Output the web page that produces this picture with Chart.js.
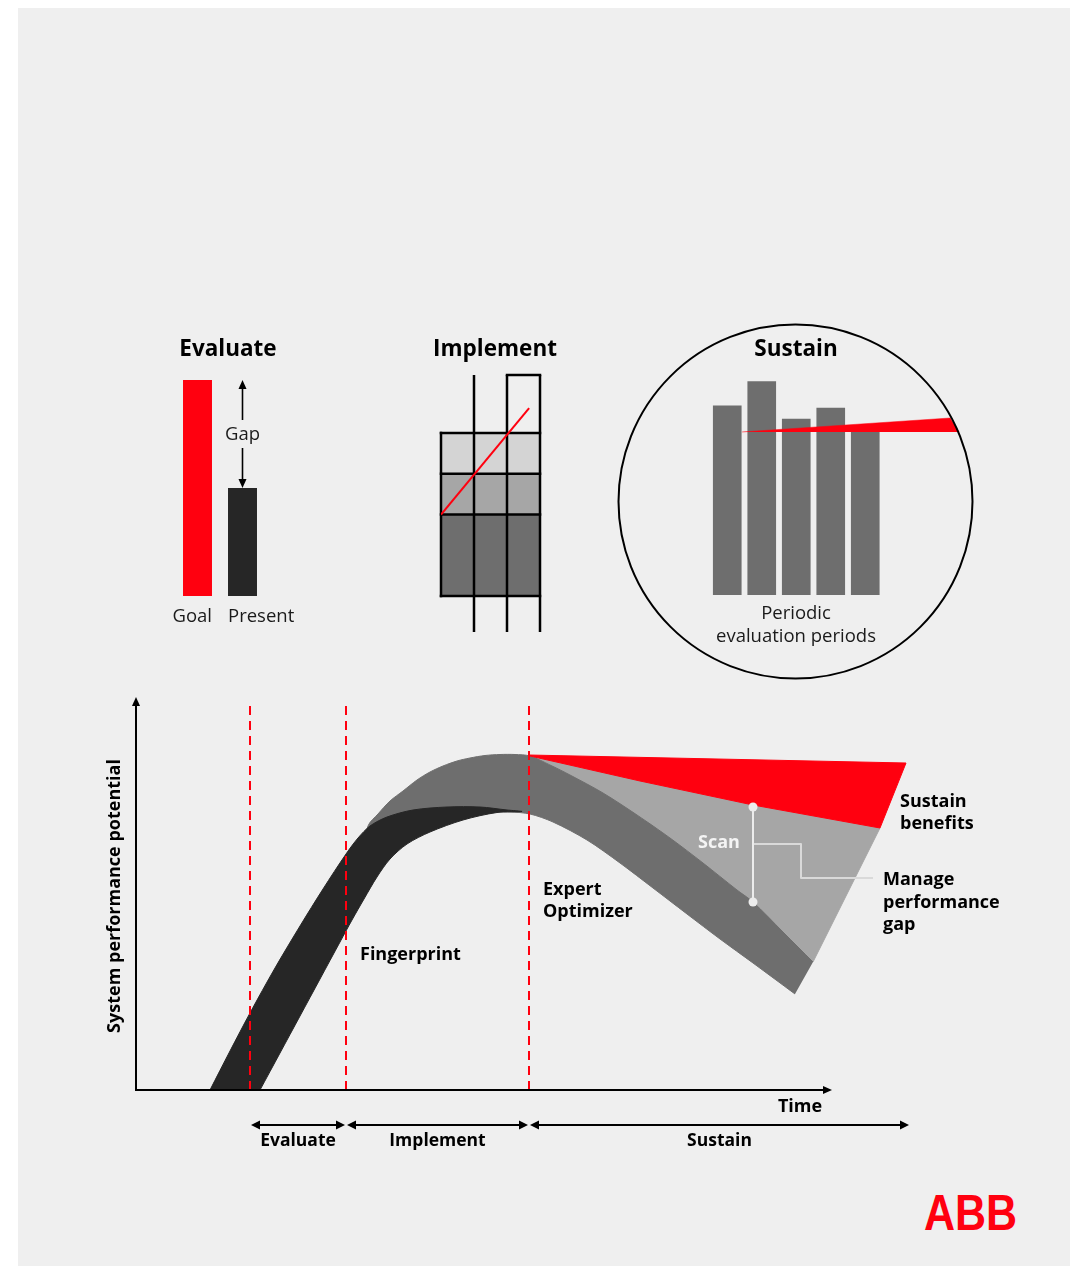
<!DOCTYPE html>
<html>
<head>
<meta charset="utf-8">
<title>System performance potential – Evaluate, Implement, Sustain</title>
<script src="https://cdn.jsdelivr.net/npm/chart.js@4.4.1/dist/chart.umd.min.js"></script>
<style>
  html, body { margin:0; padding:0; background:#ffffff; }
  body { width:1070px; height:1266px; position:relative; overflow:hidden; }
  #panel { position:absolute; left:18px; top:8px; width:1052px; height:1258px; background:#efefef; }
  canvas { position:absolute; }
  #logo { position:absolute; left:924px; top:1188px; font:bold 50px "Liberation Sans", Arial, sans-serif; color:#ff000f; line-height:50px; transform:scaleX(0.86); transform-origin:0 0; }
</style>
</head>
<body>
<div id="panel"></div>
<canvas id="evalChart" width="150" height="300" style="left:160px;top:330px"></canvas>
<canvas id="implChart" width="160" height="310" style="left:420px;top:330px"></canvas>
<canvas id="sustChart" width="372" height="372" style="left:610px;top:316px"></canvas>
<canvas id="mainChart" width="1010" height="490" style="left:60px;top:680px"></canvas>
<div id="logo">ABB</div>
<script>
// ---------------- data ----------------
// Evaluate icon
const evalTitle = 'Evaluate';
const evalCategories = ['Goal', 'Present'];
const evalValues = [100, 50];
const evalGapLabel = 'Gap';

// Implement icon (three columns, three stacked layers, red trend)
const implTitle = 'Implement';
const implColumns = [0, 1, 2];
const implBaseLayer = [2, 2, 2];
const implMidLayer = [1, 1, 1];
const implTopLayer = [1, 1, 1];
const implTrend = [[-0.5, 2], [2.17, 4.61]];

// Sustain icon
const sustTitle = 'Sustain';
const sustPeriods = [0, 1, 2, 3, 4];
const sustValues = [86, 97, 80, 85, 74];
const sustWedge = [[0.43, 74.1], [6.46, 80.45], [6.72, 74.1]];
const sustCaption = ['Periodic', 'evaluation periods'];

// Main chart (time 0..100, performance 0..100)
const yAxisTitle = 'System performance potential';
const xAxisTitle = 'Time';
const phaseNames = ['Evaluate', 'Implement', 'Sustain'];
const phaseEdges = [14.25, 26.25, 49.125, 96.75];
const darkBand = [[9.25,0],[11.75,9.75],[14.25,19.25],[17.375,30.5],[20.5,41],[23.375,50.25],[26.25,59],[27.75,63],[29.25,66],[31.375,68.25],[34.625,70],[38.875,70.75],[43,70.75],[46.375,70],[48.25,69.625],[45.125,69.375],[40.875,67.5],[36.75,64.5],[33.875,61.5],[31.75,57.75],[30.125,53.25],[28.5,47.75],[27,42.5],[25.5,37],[23,27.75],[20.5,18.5],[18,9.25],[15.5,0]];
const potentialBand = [[82.375,24],[77.125,31.75],[73,37.75],[68.875,44],[64.625,50.5],[60.5,56.75],[56.375,62.5],[52.125,67],[49.25,69],[46.75,69.5],[42.625,69.5],[38.375,69],[34.25,67.25],[31.125,64],[28.75,60],[29,66],[30.25,69],[31.75,72.25],[33.375,74.75],[35.125,77.5],[36.75,79.5],[38.375,81],[40.125,82.25],[41.75,83],[43.625,83.625],[45.5,83.875],[47.375,83.875],[49.25,83.5],[51.75,81.25],[54.25,78.75],[58.375,74.25],[62.625,68.75],[66.75,63],[70.875,56.75],[75.125,50],[77.125,47],[80.875,39.5],[84.625,32]];
const gapArea = [[49.25,83.5],[63,77.25],[77.125,71.25],[93,65.5],[84.625,32],[80.875,39.5],[77.125,47],[75.125,50],[70.875,56.75],[66.75,63],[62.625,68.75],[58.375,74.25],[54.25,78.75],[51.75,81.25]];
const benefitArea = [[49.125,83.75],[96.25,81.75],[93,65.5],[77.125,71.25],[63,77.25],[49.25,83.5]];
const scanRange = [[77.125,70.75],[77.125,47]];
const scanLeader = [[77.125,61.5],[83.125,61.5],[83.125,53],[92.125,53]];
const scanLabel = 'Scan';
const fingerprintLabel = ['Fingerprint'];
const optimizerLabel = ['Expert', 'Optimizer'];
const benefitLabel = ['Sustain', 'benefits'];
const gapLabel = ['Manage', 'performance', 'gap'];

// ---------------- helpers ----------------
const FONT = '"Open Sans", "Noto Sans", sans-serif';
const RED = '#ff000f';
const pts = a => a.map(([x, y]) => ({x, y}));
const baseOpts = { responsive:false, animation:false, devicePixelRatio:1,
  plugins:{ legend:{display:false}, tooltip:{enabled:false} } };

function arrowHead(ctx, x, y, dir, len, half) {
  ctx.beginPath();
  if (dir === 'up') { ctx.moveTo(x, y); ctx.lineTo(x - half, y + len); ctx.lineTo(x + half, y + len); }
  if (dir === 'down') { ctx.moveTo(x, y); ctx.lineTo(x - half, y - len); ctx.lineTo(x + half, y - len); }
  if (dir === 'left') { ctx.moveTo(x, y); ctx.lineTo(x + len, y - half); ctx.lineTo(x + len, y + half); }
  if (dir === 'right') { ctx.moveTo(x, y); ctx.lineTo(x - len, y - half); ctx.lineTo(x - len, y + half); }
  ctx.closePath(); ctx.fill();
}
function seg(ctx, x1, y1, x2, y2) { ctx.beginPath(); ctx.moveTo(x1, y1); ctx.lineTo(x2, y2); ctx.stroke(); }

// ---------------- Evaluate ----------------
const evalDecor = {
  id: 'evalDecor',
  afterDatasetsDraw(chart) {
    const {ctx} = chart; const sy = chart.scales.y;
    const meta = chart.getDatasetMeta(0);
    const goal = meta.data[0], pres = meta.data[1];
    ctx.save();
    ctx.fillStyle = '#000'; ctx.strokeStyle = '#000';
    ctx.font = 'bold 22.5px ' + FONT; ctx.textAlign = 'center'; ctx.textBaseline = 'middle';
    ctx.fillText(evalTitle, 68, 20);
    ctx.font = '18.5px ' + FONT; ctx.fillStyle = '#1a1a1a';
    const ly = sy.getPixelForValue(0) + 21;
    ctx.textAlign = 'right'; ctx.fillText(evalCategories[0], goal.x + goal.width / 2, ly);
    ctx.textAlign = 'left'; ctx.fillText(evalCategories[1], pres.x - pres.width / 2, ly);
    // gap arrow
    const yt = sy.getPixelForValue(evalValues[0]), yb = sy.getPixelForValue(evalValues[1]);
    const ym = (yt + yb) / 2, x = pres.x;
    ctx.lineWidth = 1.6; ctx.fillStyle = '#000';
    seg(ctx, x, yt + 6, x, ym - 14);
    arrowHead(ctx, x, yt, 'up', 9, 4);
    seg(ctx, x, ym + 14, x, yb - 6);
    arrowHead(ctx, x, yb, 'down', 9, 4);
    ctx.font = '18.5px ' + FONT; ctx.textAlign = 'center'; ctx.fillStyle = '#1a1a1a';
    ctx.fillText(evalGapLabel, x, ym + 1);
    ctx.restore();
  }
};
new Chart(document.getElementById('evalChart'), {
  type: 'bar',
  data: { labels: evalCategories, datasets: [{ data: evalValues, backgroundColor: [RED, '#262626'], barPercentage: 0.644, categoryPercentage: 1 }] },
  options: Object.assign({}, baseOpts, {
    layout: { padding: { left: 15, right: 45, top: 50, bottom: 34 } },
    scales: { x: { display: false }, y: { display: false, min: 0, max: 100 } }
  }),
  plugins: [evalDecor]
});

// ---------------- Implement ----------------
const implDecor = {
  id: 'implDecor',
  beforeDatasetDraw(chart, args) {
    if (args.index !== 3) return;
    const {ctx, chartArea} = chart; const sx = chart.scales.x, sy = chart.scales.y;
    const levels = [0, implBaseLayer[0], implBaseLayer[0] + implMidLayer[0], implBaseLayer[0] + implMidLayer[0] + implTopLayer[0]];
    const xs = [-0.5, 0.5, 1.5, 2.5].map(v => sx.getPixelForValue(v));
    ctx.save();
    ctx.strokeStyle = '#000'; ctx.lineWidth = 2.5; ctx.lineCap = 'square';
    levels.forEach(l => seg(ctx, xs[0], sy.getPixelForValue(l), xs[3], sy.getPixelForValue(l)));
    seg(ctx, xs[0], sy.getPixelForValue(0), xs[0], sy.getPixelForValue(levels[3]));
    ctx.lineCap = 'butt';
    for (let i = 1; i < 4; i++) seg(ctx, xs[i], chartArea.top, xs[i], sy.getPixelForValue(0) + 36);
    ctx.lineCap = 'square';
    seg(ctx, xs[2], chartArea.top, xs[3], chartArea.top);
    ctx.restore();
  },
  afterDatasetsDraw(chart) {
    const {ctx} = chart;
    ctx.save();
    ctx.fillStyle = '#000'; ctx.font = 'bold 22.5px ' + FONT; ctx.textAlign = 'center'; ctx.textBaseline = 'middle';
    ctx.fillText(implTitle, 75, 20);
    ctx.restore();
  }
};
const implLayer = (vals, color) => ({ data: implColumns.map((c, i) => ({x: c, y: vals[i]})), backgroundColor: color, barThickness: 33, order: 1 });
new Chart(document.getElementById('implChart'), {
  type: 'bar',
  data: { datasets: [
    implLayer(implBaseLayer, '#6e6e6e'),
    implLayer(implMidLayer, '#a6a6a6'),
    implLayer(implTopLayer, '#d4d4d4'),
    { type: 'line', data: pts(implTrend), borderColor: RED, borderWidth: 2, pointRadius: 0, fill: false, order: 0 }
  ] },
  options: Object.assign({}, baseOpts, {
    layout: { padding: { left: 21, right: 40, top: 45, bottom: 44 } },
    scales: {
      x: { type: 'linear', display: false, offset: false, stacked: true, min: -0.5, max: 2.5 },
      y: { display: false, stacked: true, min: 0, max: 5.423 }
    }
  }),
  plugins: [implDecor]
});

// ---------------- Sustain ----------------
const sustDecor = {
  id: 'sustDecor',
  afterDatasetsDraw(chart) {
    const {ctx} = chart;
    ctx.save();
    ctx.strokeStyle = '#000'; ctx.lineWidth = 2;
    ctx.beginPath(); ctx.arc(185.5, 185.5, 177, 0, Math.PI * 2); ctx.stroke();
    ctx.fillStyle = '#000'; ctx.font = 'bold 22.5px ' + FONT; ctx.textAlign = 'center'; ctx.textBaseline = 'middle';
    ctx.fillText(sustTitle, 186, 34);
    ctx.font = '18.5px ' + FONT; ctx.fillStyle = '#1a1a1a';
    ctx.fillText(sustCaption[0], 186, 298);
    ctx.fillText(sustCaption[1], 186, 321);
    ctx.restore();
  }
};
new Chart(document.getElementById('sustChart'), {
  type: 'bar',
  data: { datasets: [
    { type: 'line', data: pts(sustWedge), backgroundColor: RED, borderColor: RED, borderWidth: 0.5, fill: 'shape', pointRadius: 0, order: 0 },
    { type: 'bar', data: sustPeriods.map((p, i) => ({x: p, y: sustValues[i]})), backgroundColor: '#6e6e6e', barThickness: 28, order: 1 }
  ] },
  options: Object.assign({}, baseOpts, {
    layout: { padding: { left: 100, right: 2, top: 59, bottom: 93 } },
    scales: { x: { type: 'linear', display: false, offset: false, min: -0.5, max: 7.326 }, y: { display: false, min: 0, max: 100 } }
  }),
  plugins: [sustDecor]
});

// ---------------- Main chart ----------------
const mainDecor = {
  id: 'mainDecor',
  afterDatasetsDraw(chart) {
    const {ctx} = chart; const sx = chart.scales.x, sy = chart.scales.y;
    const X = v => sx.getPixelForValue(v), Y = v => sy.getPixelForValue(v);
    ctx.save();
    ctx.strokeStyle = '#000'; ctx.fillStyle = '#000'; ctx.lineWidth = 2;
    const x0 = X(0), y0 = Y(0);
    seg(ctx, x0, y0 + 1, x0, Y(98.25) + 6);
    arrowHead(ctx, x0, Y(98.25), 'up', 9, 4);
    seg(ctx, x0 - 1, y0, X(87) - 6, y0);
    arrowHead(ctx, X(87), y0, 'right', 9, 4);
    // phases
    const ya = Y(-8.75);
    ctx.font = 'bold 17.5px ' + FONT; ctx.textAlign = 'center'; ctx.textBaseline = 'middle';
    for (let i = 0; i < phaseNames.length; i++) {
      const a = X(phaseEdges[i]), b = X(phaseEdges[i + 1]);
      seg(ctx, a + 5, ya, b - 5, ya);
      arrowHead(ctx, a + 1, ya, 'left', 9, 4.5);
      arrowHead(ctx, b - 1, ya, 'right', 9, 4.5);
      ctx.fillText(phaseNames[i], (a + b) / 2, Y(-12.75));
    }
    ctx.font = 'bold 18px ' + FONT;
    ctx.fillText(xAxisTitle, X(83), Y(-4.25));
    // y title
    ctx.save();
    ctx.translate(X(-2.625), Y(48.5)); ctx.rotate(-Math.PI / 2);
    ctx.fillText(yAxisTitle, 0, 0);
    ctx.restore();
    // labels
    ctx.font = 'bold 18px ' + FONT; ctx.textAlign = 'left'; ctx.fillStyle = '#000';
    ctx.fillText(fingerprintLabel[0], X(28), Y(33.75));
    optimizerLabel.forEach((t, i) => ctx.fillText(t, X(50.875), Y(50 - i * 5.5)));
    benefitLabel.forEach((t, i) => ctx.fillText(t, X(95.5), Y(72 - i * 5.5)));
    gapLabel.forEach((t, i) => ctx.fillText(t, X(93.375), Y(52.5 - i * 5.6)));
    ctx.fillStyle = '#f4f4f4'; ctx.textAlign = 'center';
    ctx.fillText(scanLabel, X(72.875), Y(61.75));
    ctx.restore();
  }
};
function area(data, color, order, tension) {
  return { data: pts(data), backgroundColor: color, borderColor: color, borderWidth: 1, fill: 'shape', pointRadius: 0, tension, order };
}
new Chart(document.getElementById('mainChart'), {
  type: 'line',
  data: { datasets: [
    ...phaseEdges.slice(0, 3).map(v => ({ data: pts([[v, 0], [v, 96.25]]), borderColor: RED, borderWidth: 2, borderDash: [9, 6], pointRadius: 0, fill: false, order: -1 })),
    { data: pts(scanLeader), borderColor: '#d9d9d9', borderWidth: 2, pointRadius: 0, fill: false, borderJoinStyle: 'round', order: -2 },
    { data: pts(scanRange), borderColor: '#ececec', borderWidth: 2, pointRadius: 4.5, pointBackgroundColor: '#ececec', pointBorderWidth: 0, fill: false, order: -3 },
    area(darkBand, '#262626', 0, 0.3),
    area(benefitArea, RED, 1, 0),
    area(potentialBand, '#6e6e6e', 2, 0.3),
    area(gapArea, '#a6a6a6', 3, 0)
  ] },
  options: Object.assign({}, baseOpts, {
    layout: { padding: { left: 76, right: 134, top: 10, bottom: 80 } },
    scales: { x: { type: 'linear', display: false, min: 0, max: 100 }, y: { display: false, min: 0, max: 100 } }
  }),
  plugins: [mainDecor]
});
</script>
</body>
</html>
